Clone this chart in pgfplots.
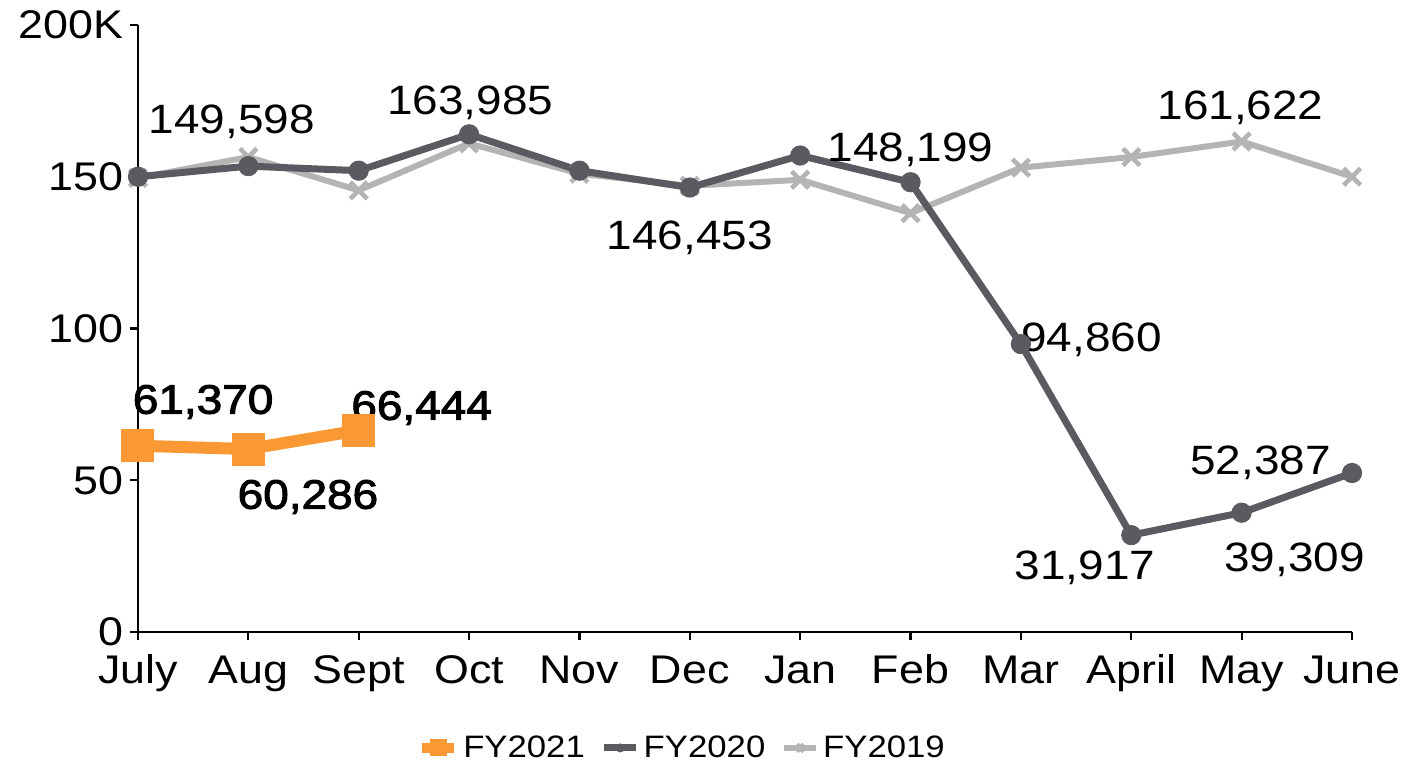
\documentclass[border=0pt]{standalone}
\usepackage{fontspec}
\setmainfont{Liberation Sans}[FakeStretch=1.12]
\newfontfamily\semib{Liberation Sans}[FakeStretch=1.12,FakeBold=2.5]
\usepackage{pgfplots}
\pgfplotsset{compat=1.18}
\definecolor{fyorange}{RGB}{250,152,52}
\definecolor{fydark}{RGB}{90,90,96}
\definecolor{fylight}{RGB}{180,180,180}

\begin{document}
\begin{tikzpicture}
\begin{axis}[
  scale only axis,
  width=607pt,height=303.5pt,
  xmin=0,xmax=11,ymin=0,ymax=200,
  axis lines=left,
  axis line style={line width=1.3pt,-},
  clip=false,
  xtick={0,...,11},
  xticklabels={July,Aug,Sept,Oct,Nov,Dec,Jan,Feb,Mar,April,May,June},
  ytick={0,50,100,150,200},
  yticklabels={0,50,100,150,200K},
  tick style={black,line width=1.1pt},
  tick align=outside,
  major tick length=4pt,
  tick label style={font=\fontsize{20}{23}\selectfont},
  xticklabel style={text height=15pt,text depth=4pt,yshift=-3pt},
  legend columns=3,
  reverse legend,
  legend style={draw=none,at={(0.449,-0.191)},anchor=center,
    font=\fontsize{15.5}{18}\selectfont,inner sep=0pt,
    /tikz/every odd column/.append style={column sep=0pt},
    /tikz/every even column/.append style={column sep=6pt}},
  legend cell align=left,
  legend image code/.code={
    \draw[mark repeat=2,mark phase=2,#1] plot coordinates {(0cm,0cm) (0.28cm,0cm) (0.56cm,0cm)};}
]
\addplot[color=fylight,line width=3pt,mark=x,mark size=6pt,mark options={line width=2.3pt},
  legend image post style={mark size=2.5pt,line width=3pt}]
  coordinates {(0,149.598)(1,156.5)(2,145.5)(3,161)(4,151)(5,147)(6,149)(7,138)(8,153)(9,156.5)(10,161.622)(11,150)};
\addlegendentry{FY2019}
\addplot[color=fydark,line width=3.5pt,mark=*,mark size=4.8pt,mark options={line width=0.5pt},
  legend image post style={mark size=2pt}]
  coordinates {(0,150)(1,153.5)(2,152)(3,163.985)(4,152)(5,146.453)(6,157)(7,148.199)(8,94.860)(9,31.917)(10,39.309)(11,52.387)};
\addlegendentry{FY2020}
\addplot[color=fyorange,line width=6pt,mark=square*,mark size=8pt,mark options={line width=0.5pt},
  legend image post style={mark size=4pt,line width=5pt}]
  coordinates {(0,61.370)(1,60.286)(2,66.444)};
\addlegendentry{FY2021}

\begin{scope}[every node/.style={font=\fontsize{20.5}{23}\selectfont,inner sep=0pt}]
\node at (axis cs:0.85,168) {149,598};
\node at (axis cs:3.01,174.3) {163,985};
\node at (axis cs:5.0,130) {146,453};
\node at (axis cs:7.0,158.8) {148,199};
\node at (axis cs:9.99,172.6) {161,622};
\node at (axis cs:8.64,96.2) {94,860};
\node at (axis cs:10.17,55.7) {52,387};
\node at (axis cs:10.48,23.7) {39,309};
\node at (axis cs:8.58,21.1) {31,917};
\node at (axis cs:0.59,75.8) {\semib 61,370};
\node at (axis cs:1.54,44.5) {\semib 60,286};
\node at (axis cs:2.57,73.8) {\semib 66,444};
\end{scope}
\end{axis}
\pgfresetboundingbox
\path (current axis.south west) ++(-69pt,-67pt) rectangle ++(700.5pt,383pt);
\end{tikzpicture}
\end{document}
